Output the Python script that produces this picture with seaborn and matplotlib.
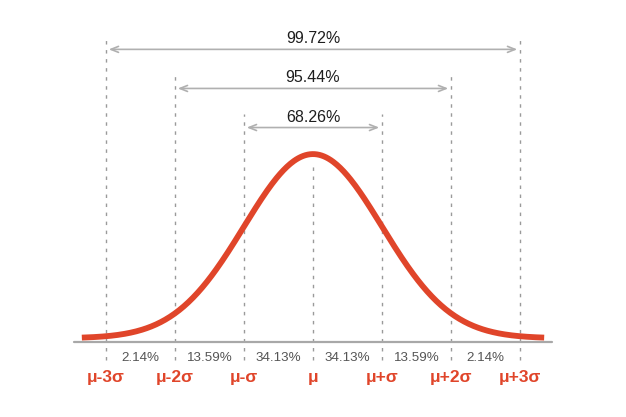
import numpy as np
import pandas as pd
import seaborn as sns
import matplotlib.pyplot as plt

# positions of the sigma lines (in units of sigma)
sigmas = [-3, -2, -1, 0, 1, 2, 3]
sigma_labels = ['μ-3σ', 'μ-2σ', 'μ-σ', 'μ', 'μ+σ', 'μ+2σ', 'μ+3σ']
band_pcts = ['2.14%', '13.59%', '34.13%', '34.13%', '13.59%', '2.14%']
range_k = [3, 2, 1]
range_pcts = ['99.72%', '95.44%', '68.26%']
range_y = [1.565, 1.356, 1.147]

red = '#e0452a'
gray = '#9a9a9a'

sns.set_theme(style='white')
plt.rcParams['font.family'] = ['Liberation Sans', 'DejaVu Sans']

fig = plt.figure(figsize=(6.26, 4.17), dpi=100)
ax = fig.add_axes([0, 0, 1, 1])
ax.set_xlim(-4.536, 4.536)
ax.set_ylim(-0.401, 1.829)
ax.axis('off')

# curve
x = np.linspace(-3.35, 3.35, 400)
curve = pd.DataFrame({'x': x, 'y': np.exp(-x ** 2 / 2) * 0.985 + 0.02})
sns.lineplot(data=curve, x='x', y='y', color=red, linewidth=4.2, ax=ax,
             zorder=4, solid_capstyle='butt')

# baseline
ax.plot([-3.46, 3.46], [0, 0], color='#a8a8a8', lw=1.6, zorder=3)

# dashed verticals
tops = {3: 1.63, 2: 1.42, 1: 1.22, 0: 0.965}
for s in sigmas:
    ax.plot([s, s], [-0.095, tops[abs(s)]], color=gray, lw=1.0,
            ls=(0, (2.5, 4)), zorder=2)

# range arrows
for k, pct, y in zip(range_k, range_pcts, range_y):
    ax.annotate('', xy=(-k + 0.04, y), xytext=(k - 0.04, y),
                arrowprops=dict(arrowstyle='<->,head_length=0.45,head_width=0.18',
                                color='#b0b0b0', lw=1.2, shrinkA=0, shrinkB=0))
    ax.text(0.0, y + 0.056, pct, ha='center', va='center', fontsize=11.5,
            color='#1e1e1e')

# band percentages
for i, pct in enumerate(band_pcts):
    ax.text(sigmas[i] + 0.5, -0.088, pct, ha='center', va='center',
            fontsize=9.6, color='#555555')

# sigma labels
for s, lab in zip(sigmas, sigma_labels):
    ax.text(s, -0.19, lab, ha='center', va='center', fontsize=12.5,
            fontweight='bold', color=red)

fig.savefig('out.png', dpi=100, facecolor='white')
